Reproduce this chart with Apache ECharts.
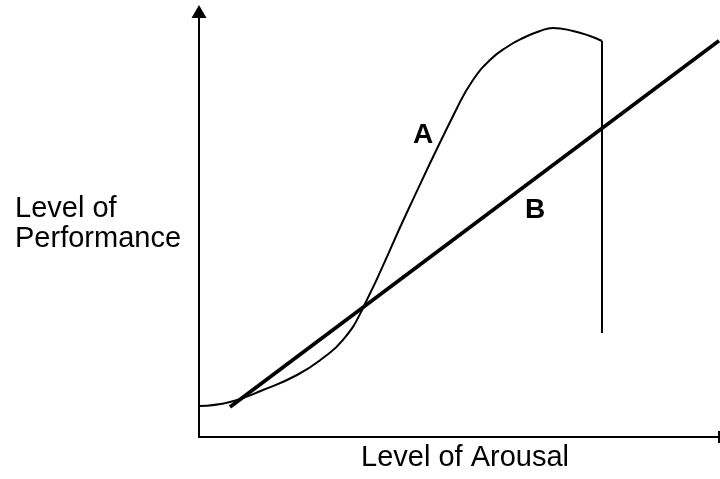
<!DOCTYPE html>
<html>
<head>
<meta charset="utf-8">
<script src="https://cdn.jsdelivr.net/npm/echarts@6/dist/echarts.min.js"></script>
<style>
html,body{margin:0;padding:0;background:#fff;}
#chart{width:720px;height:479px;}
</style>
</head>
<body>
<div id="chart"></div>
<script>
// Level of Arousal (x) vs Level of Performance (y), both on a 0–100 scale
var curveA = [
  [0.0, 7.29], [5.96, 8.23], [12.31, 11.05], [18.85, 14.57], [23.85, 18.57],
  [27.69, 22.80], [31.35, 29.85], [40.38, 53.82], [49.62, 77.32],
  [52.69, 83.90], [55.96, 88.60], [59.23, 91.66], [62.31, 93.77], [65.58, 95.42],
  [68.08, 96.12], [71.92, 95.42], [75.19, 94.24], [77.50, 93.07]
];
var curveADrop = [[77.50, 93.07], [77.50, 24.44]];
var lineB = [[5.96, 7.05], [100, 93.14]];
var labelA = {name: 'A', coord: [43.08, 71.0]};
var labelB = {name: 'B', coord: [64.62, 53.4]};
var xName = 'Level of Arousal';
var yName = 'Level of\nPerformance';

var FONT = '"Liberation Sans", Arial, sans-serif';
var chart = echarts.init(document.getElementById('chart'), null, {renderer: 'canvas'});
var labelStyle = {show: true, position: 'inside', color: '#000', fontFamily: FONT, fontWeight: 'bold', fontSize: 28, formatter: '{b}'};

chart.setOption({
  animation: false,
  backgroundColor: '#fff',
  grid: {left: 199, right: 1, top: 11.5, bottom: 42, containLabel: false},
  xAxis: {
    type: 'value', min: 0, max: 100, interval: 100,
    name: xName, nameLocation: 'middle', nameGap: 6,
    nameTextStyle: {color: '#000', fontFamily: FONT, fontSize: 29, padding: [0, 0, 0, 12], verticalAlign: 'top'},
    axisLine: {show: true, lineStyle: {color: '#000', width: 2}, symbol: ['none', 'rect'], symbolSize: [12, 2]},
    axisTick: {show: false}, axisLabel: {show: false}, splitLine: {show: false}
  },
  yAxis: {
    type: 'value', min: 0, max: 100, interval: 100,
    name: yName, nameLocation: 'middle', nameGap: 184, nameRotate: 0,
    nameTextStyle: {color: '#000', fontFamily: FONT, fontSize: 29, lineHeight: 30, align: 'left'},
    axisLine: {show: true, lineStyle: {color: '#000', width: 2}, symbol: ['none', 'triangle'], symbolSize: [15, 13]},
    axisTick: {show: false}, axisLabel: {show: false}, splitLine: {show: false}
  },
  series: [
    {
      name: 'A', type: 'line', data: curveA, smooth: 0.5, showSymbol: false, symbol: 'none',
      lineStyle: {color: '#000', width: 2}, z: 3,
      markPoint: {symbol: 'circle', symbolSize: 0, label: labelStyle, data: [labelA]}
    },
    {
      name: 'A drop', type: 'line', data: curveADrop, showSymbol: false, symbol: 'none',
      lineStyle: {color: '#000', width: 2}, z: 3
    },
    {
      name: 'B', type: 'line', data: lineB, showSymbol: false, symbol: 'none',
      lineStyle: {color: '#000', width: 3.8}, z: 4,
      markPoint: {symbol: 'circle', symbolSize: 0, label: labelStyle, data: [labelB]}
    }
  ]
});
</script>
</body>
</html>
